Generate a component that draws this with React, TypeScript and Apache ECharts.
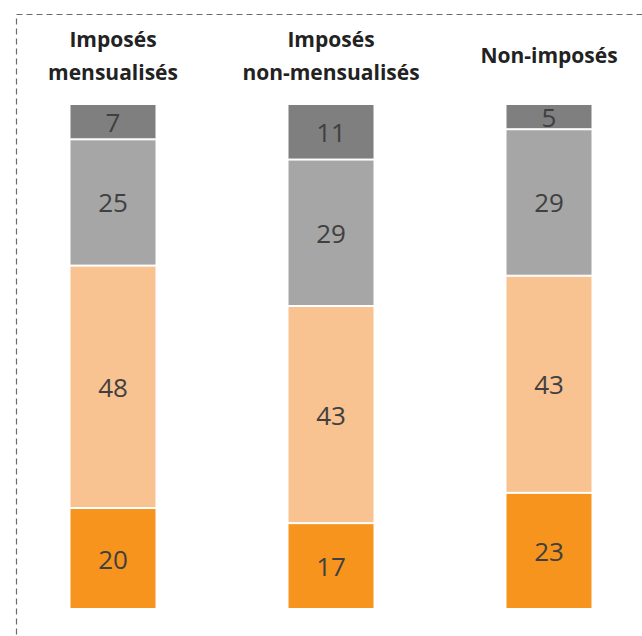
import React, { useEffect, useRef } from "react";
import * as echarts from "echarts";

const categories = ["Imposés\nmensualisés", "Imposés\nnon-mensualisés", "Non-imposés"];
const seriesOrange = [20, 17, 23];
const seriesLightOrange = [48, 43, 43];
const seriesGray = [25, 29, 29];
const seriesDarkGray = [7, 11, 5];
const colors = ["#F7941E", "#F9C291", "#A6A6A6", "#7F7F7F"];

export default function App() {
  const ref = useRef<HTMLDivElement>(null);
  useEffect(() => {
    document.body.style.margin = "0";
    const chart = echarts.init(ref.current!, null, { renderer: "svg" });
    const mk = (name: string, data: number[], color: string) => ({
      name,
      type: "bar",
      stack: "total",
      data,
      barWidth: 87,
      itemStyle: { color, borderColor: "#ffffff", borderWidth: 1 },
      label: {
        show: true,
        position: "inside",
        color: "#404040",
        fontSize: 26,
        fontFamily: "Open Sans",
      },
    });
    chart.setOption({
      animation: false,
      grid: { left: 4, right: 22, top: 104, bottom: 27 },
      xAxis: {
        type: "category",
        position: "top",
        data: categories,
        axisLine: { show: false },
        axisTick: { show: false },
        axisLabel: {
          interval: 0,
          margin: 49,
          verticalAlign: "middle",
          fontWeight: "bold",
          fontSize: 21,
          fontFamily: "Open Sans",
          color: "#222222",
          lineHeight: 33,
        },
      },
      yAxis: { type: "value", min: 0, max: 100, show: false },
      series: [
        mk("a", seriesOrange, colors[0]),
        mk("b", seriesLightOrange, colors[1]),
        mk("c", seriesGray, colors[2]),
        mk("d", seriesDarkGray, colors[3]),
      ],
      graphic: [
        {
          type: "rect",
          shape: { x: 16.5, y: 14.5, width: 720, height: 700 },
          style: { fill: "none", stroke: "#6b6b6b", lineWidth: 1.2, lineDash: [6, 4] },
          silent: true,
        },
      ],
    });
    return () => chart.dispose();
  }, []);
  return (
    <div style={{ width: 642, height: 636, overflow: "hidden", position: "relative" }}>
      <div ref={ref} style={{ width: 680, height: 636 }} />
    </div>
  );
}
